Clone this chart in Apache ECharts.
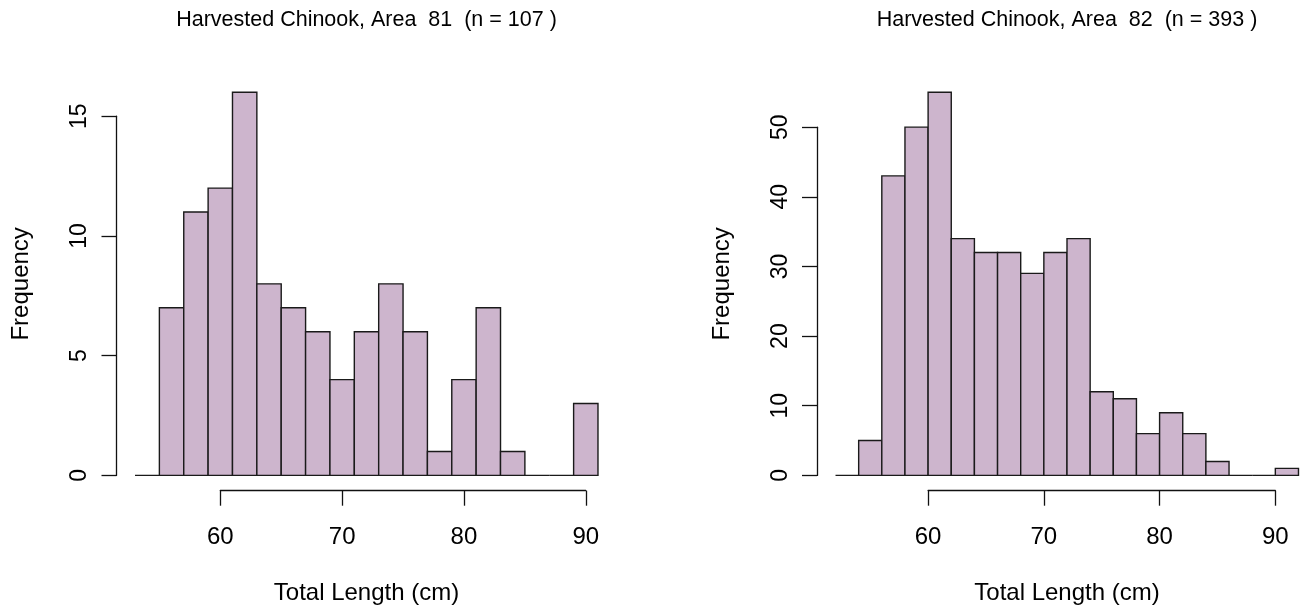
<!DOCTYPE html>
<html>
<head>
<meta charset="utf-8">
<script src="https://cdn.jsdelivr.net/npm/echarts@6/dist/echarts.min.js"></script>
<style>
html,body{margin:0;padding:0;background:#fff;}
#chart{width:1300px;height:609px;}
</style>
</head>
<body>
<div id="chart"></div>
<script>
// ---- Data ----
const titles = ['Harvested Chinook, Area  81  (n = 107 )', 'Harvested Chinook, Area  82  (n = 393 )'];
const xAxisName = 'Total Length (cm)';
const yAxisName = 'Frequency';

const breaks81 = [53,55,57,59,61,63,65,67,69,71,73,75,77,79,81,83,85,87,89,91];
const counts81 = [0,7,11,12,16,8,7,6,4,6,8,6,1,4,7,1,0,0,3];

const breaks82 = [52,54,56,58,60,62,64,66,68,70,72,74,76,78,80,82,84,86,88,90,92];
const counts82 = [0,5,43,50,55,34,32,32,29,32,34,12,11,6,9,6,2,0,0,1];

const xTicks81 = [60,70,80,90];
const yTicks81 = [0,5,10,15];
const xTicks82 = [60,70,80,90];
const yTicks82 = [0,10,20,30,40,50];

// ---- Layout ----
const W = 1300;
const FONT = "'Liberation Sans', Arial, Helvetica, sans-serif";
const FILL = '#CDB5CD';
const INK = '#111111';
const boxes = [
  {left: 116.5, top: 77, width: 500, height: 413.7},
  {left: 817, top: 77, width: 500, height: 413.7}
];

const option = {
  animation: false,
  backgroundColor: '#ffffff',
  grid: [], xAxis: [], yAxis: [], series: [], graphic: []
};

function addPanel(p, breaks, counts, xTicks, yTicks, title) {
  const box = boxes[p];
  const xlo = breaks[0], xhi = breaks[breaks.length - 1];
  const xpad = 0.04 * (xhi - xlo);
  const xmin = xlo - xpad, xmax = xhi + xpad;
  const cmax = Math.max.apply(null, counts);
  const ymin = -0.04 * cmax, ymax = cmax * 1.04;
  const xpx = v => box.left + (v - xmin) / (xmax - xmin) * box.width;
  const ypx = v => box.top + (ymax - v) / (ymax - ymin) * box.height;

  // keep the plotting grid inside the canvas (same scale)
  const gw = Math.min(box.width, W - box.left);
  const gxmax = xmin + gw / box.width * (xmax - xmin);

  const g0 = option.grid.length;
  option.grid.push({left: box.left, top: box.top, width: gw, height: box.height, containLabel: false, outerBoundsMode: 'none'});
  option.xAxis.push({type: 'value', gridIndex: g0, min: xmin, max: gxmax, show: false});
  option.yAxis.push({type: 'value', gridIndex: g0, min: ymin, max: ymax, show: false});

  // x axis display grid (axis spans first..last tick only)
  const xl = xpx(xTicks[0]), xr = xpx(xTicks[xTicks.length - 1]);
  option.grid.push({left: xl, top: box.top, width: xr - xl, height: box.height, containLabel: false, outerBoundsMode: 'none'});
  option.xAxis.push({
    type: 'value', gridIndex: g0 + 1, min: xTicks[0], max: xTicks[xTicks.length - 1],
    interval: xTicks[1] - xTicks[0], position: 'bottom',
    axisLine: {show: true, lineStyle: {color: INK, width: 1.3}},
    axisTick: {show: true, inside: false, length: 15, lineStyle: {color: INK, width: 1.3}},
    axisLabel: {show: true, margin: 35, color: '#000', fontSize: 24, fontFamily: FONT, hideOverlap: false},
    splitLine: {show: false}
  });
  option.yAxis.push({type: 'value', gridIndex: g0 + 1, min: 0, max: 1, show: false});

  // y axis display grid
  const yt = ypx(yTicks[yTicks.length - 1]), yb = ypx(yTicks[0]);
  option.grid.push({left: box.left, top: yt, width: 60, height: yb - yt, containLabel: false, outerBoundsMode: 'none'});
  option.xAxis.push({type: 'value', gridIndex: g0 + 2, min: 0, max: 1, show: false});
  option.yAxis.push({
    type: 'value', gridIndex: g0 + 2, min: yTicks[0], max: yTicks[yTicks.length - 1],
    interval: yTicks[1] - yTicks[0], position: 'left',
    axisLine: {show: true, lineStyle: {color: INK, width: 1.3}},
    axisTick: {show: true, inside: false, length: 15, lineStyle: {color: INK, width: 1.3}},
    axisLabel: {show: true, rotate: 90, margin: 25, color: '#000', fontSize: 23, fontFamily: FONT, hideOverlap: false},
    splitLine: {show: false}
  });

  // histogram bars
  const data = counts.map((c, i) => [breaks[i], breaks[i + 1], c]);
  option.series.push({
    type: 'custom',
    xAxisIndex: g0, yAxisIndex: g0,
    clip: false,
    data: data,
    renderItem: function (params, api) {
      const a = api.coord([api.value(0), api.value(2)]);
      const b = api.coord([api.value(1), 0]);
      return {
        type: 'rect',
        shape: {x: a[0], y: a[1], width: b[0] - a[0], height: b[1] - a[1]},
        style: {fill: FILL, stroke: '#1a1a1a', lineWidth: 1.4}
      };
    }
  });

  const cx = box.left + box.width / 2;
  const cy = box.top + box.height / 2;
  option.graphic.push({
    type: 'text', x: cx, y: 20, silent: true,
    style: {text: title, fill: '#000', font: '21.5px ' + FONT, align: 'center', verticalAlign: 'middle'}
  });
  option.graphic.push({
    type: 'text', x: cx, y: 593, silent: true,
    style: {text: xAxisName, fill: '#000', font: '24px ' + FONT, align: 'center', verticalAlign: 'middle'}
  });
  option.graphic.push({
    type: 'text', x: box.left - 95, y: cy, rotation: Math.PI / 2, silent: true,
    style: {text: yAxisName, fill: '#000', font: '24px ' + FONT, align: 'center', verticalAlign: 'middle'}
  });
}

addPanel(0, breaks81, counts81, xTicks81, yTicks81, titles[0]);
addPanel(1, breaks82, counts82, xTicks82, yTicks82, titles[1]);

const chart = echarts.init(document.getElementById('chart'), null, {renderer: 'canvas'});
chart.setOption(option);
</script>
</body>
</html>
